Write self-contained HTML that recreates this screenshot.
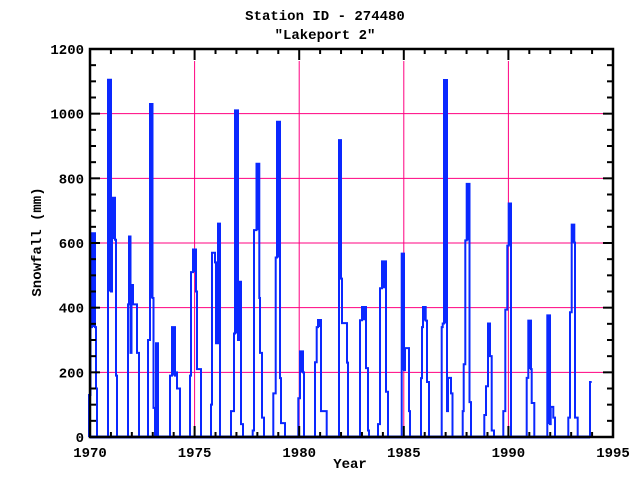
<!DOCTYPE html>
<html><head><meta charset="utf-8"><style>
html,body{margin:0;padding:0;background:#fff;}
svg{display:block}
text{font-family:"Liberation Mono",monospace;font-size:14px;font-weight:bold;fill:#000;}
</style></head><body>
<svg id="s" width="640" height="480" xmlns="http://www.w3.org/2000/svg">
<g id="grid" stroke="#ff0080" stroke-width="1"></g>
<g id="data"></g>
<g id="axes" stroke="#000"></g>
<g id="labels"></g>
<text x="325" y="20" text-anchor="middle">Station ID - 274480</text>
<text x="325" y="39" text-anchor="middle">"Lakeport 2"</text>
<text x="350" y="468" text-anchor="middle">Year</text>
<text transform="translate(41,242) rotate(-90)" text-anchor="middle">Snowfall (mm)</text>
</svg>
<script>
var NS="http://www.w3.org/2000/svg";
function el(p,t,a){var e=document.createElementNS(NS,t);for(var k in a)e.setAttribute(k,a[k]);document.getElementById(p).appendChild(e);return e;}
var X0=90,X1=613,Y0=437,Y1=49;
function Y(v){return Y0-v*(Y0-Y1)/1200;}
function XY(yr){return X0+(yr-1970)*(X1-X0)/25;}
for(var v=200;v<=1000;v+=200)el("grid","line",{x1:X0,x2:X1,y1:Y(v),y2:Y(v)});
[1975,1980,1985,1990].forEach(function(y){el("grid","line",{x1:XY(y),x2:XY(y),y1:61,y2:Y0});});
var S=[
[[89,130],[90.5,340],[92,630],[95,340],[96,150],[97,0]],
[[108,1105],[111,450],[112,615],[113,740],[115,610],[116,190],[117,0]],
[[128,410],[129,620],[130.5,260],[131.5,470],[133,410],[137,260],[139,0]],
[[148,300],[150,1030],[152.5,430],[153.5,90],[155,0],[156,290],[158,0]],
[[170,190],[172,340],[175,190],[176,200],[177,150],[180,0]],
[[190,190],[191,510],[193,580],[196,450],[197,210],[201,0]],
[[211,100],[212,570],[215,540],[216,290],[218,660],[220,0]],
[[231,80],[234,320],[235,1010],[238,300],[239,480],[241,40],[243,0]],
[[252.7,20],[254,640],[256.5,845],[259.3,430],[260,260],[262,60],[264,0]],
[[273.3,135],[275.7,555],[277,975],[280,182],[281,43],[285,0]],
[[298.3,120],[300,265],[303,200],[304,0]],
[[315,231],[316.7,340],[318,362],[321,80],[326.7,0]],
[[339,918],[341,490],[342,352],[347,230],[348,0]],
[[360,361],[362,402],[366,213],[368,20],[369,0]],
[[378,40],[380,460],[382,543],[386,140],[388,0]],
[[401.7,567],[404,207],[405,275],[409,80],[410,0]],
[[421,182],[422,340],[423,402],[425.7,360],[427,170],[429,0]],
[[441.7,340],[442.7,351],[444,1104],[447,80],[448,183],[451,135],[452.5,0]],
[[462.7,80],[463.7,225],[465.3,608],[466.7,783],[469.5,108],[471,0]],
[[484.3,68],[486,157],[488,351],[490,250],[491.7,20],[494,0]],
[[503.3,80],[505.3,394],[507.3,592],[508.7,722],[511,0]],
[[526.7,183],[528.3,360],[531,210],[531.7,105],[534.3,0]],
[[547.3,376],[550,40],[550.7,93],[553.3,60],[555,0]],
[[568.3,60],[570,386],[571.7,657],[574.3,601],[575,60],[577.7,0]]
];
var C="#0a28ff";
el("data","path",{d:"M"+X0+","+Y0+"L590,"+Y0,stroke:C,"stroke-width":3,fill:"none"});
S.forEach(function(s){
 var p="M"+s[0][0]+","+Y0,mi=0;
 for(var i=0;i<s.length;i++){p+="L"+s[i][0]+","+Y(s[i][1]);
  if(i<s.length-1)p+="L"+s[i+1][0]+","+Y(s[i][1]);
  if(s[i][1]>s[mi][1])mi=i;}
 p+="L"+s[s.length-1][0]+","+Y0;
 el("data","path",{d:p,stroke:C,"stroke-width":2,fill:"none"});
 var a=s[mi][0],b=s[mi+1][0];
 el("data","rect",{x:a,y:Y(s[mi][1]),width:b-a,height:Y(Math.max(s[mi-1]?s[mi-1][1]:0,s[mi+1][1]))-Y(s[mi][1]),fill:C});
});
el("data","path",{d:"M590,"+Y0+"L590,"+Y(170)+"L591.7,"+Y(170),stroke:C,"stroke-width":2,fill:"none"});
el("axes","rect",{x:X0,y:Y1,width:X1-X0,height:Y0-Y1,fill:"none","stroke-width":2.5});
for(var v=0;v<=1200;v+=50){var L=(v%200==0)?10:6;
 el("axes","line",{x1:X0,x2:X0+L,y1:Y(v),y2:Y(v),"stroke-width":2});
 el("axes","line",{x1:X1,x2:X1-L,y1:Y(v),y2:Y(v),"stroke-width":2});}
for(var y=1970;y<=1995;y++){var L=(y%5==0)?11:5;
 el("axes","line",{x1:XY(y),x2:XY(y),y1:Y0,y2:Y0-L,"stroke-width":2});
 el("axes","line",{x1:XY(y),x2:XY(y),y1:Y1,y2:Y1+L,"stroke-width":2});}
for(var v=0;v<=1200;v+=200){var t=el("labels","text",{x:84,y:Y(v)+5,"text-anchor":"end"});t.textContent=v;}
for(var y=1970;y<=1995;y+=5){var t=el("labels","text",{x:XY(y),y:457,"text-anchor":"middle"});t.textContent=y;}
</script>
</body></html>
